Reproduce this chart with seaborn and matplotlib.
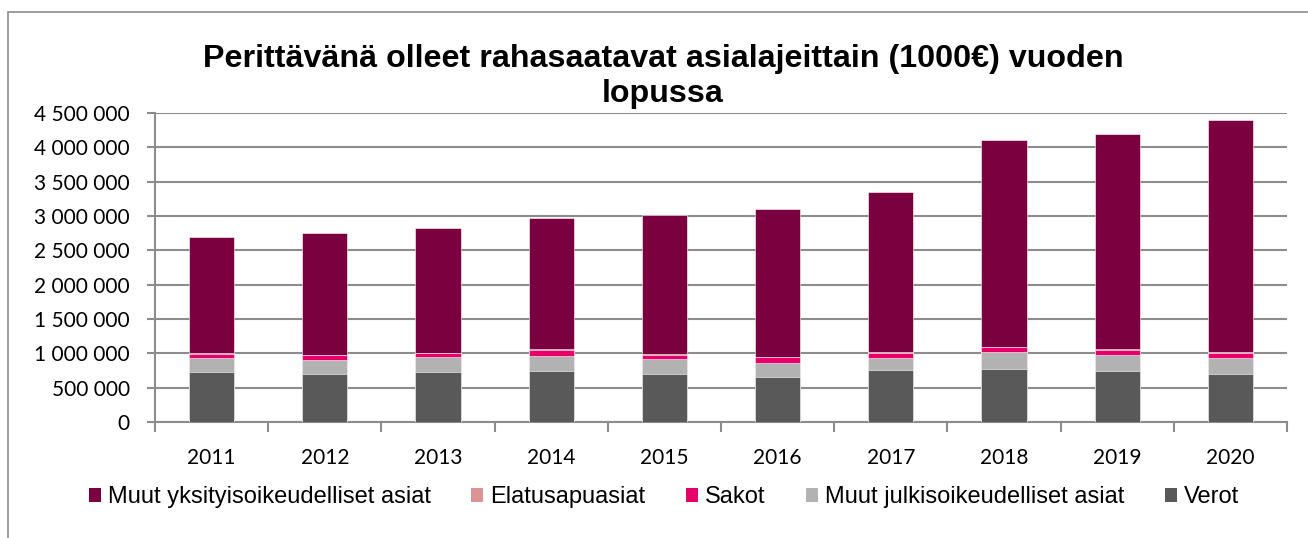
import numpy as np
import pandas as pd
import matplotlib
matplotlib.use("Agg")
import matplotlib.pyplot as plt
import seaborn as sns
from matplotlib.patches import Patch, Rectangle
from matplotlib.ticker import FuncFormatter, FixedLocator

# values in 1000 EUR
years = ["2011", "2012", "2013", "2014", "2015", "2016", "2017", "2018", "2019", "2020"]
verot = [724000, 704000, 724000, 743000, 704000, 655000, 757000, 772000, 747000, 704000]
muut_julkis = [213000, 203000, 227000, 223000, 218000, 209000, 180000, 247000, 233000, 223000]
elatus = [6000, 8000, 6000, 8000, 8000, 6000, 6000, 10000, 8000, 6000]
sakot = [57000, 65000, 52000, 85000, 60000, 77000, 72000, 68000, 71000, 82000]
muut_yksit = [1694000, 1772000, 1816000, 1912000, 2024000, 2153000, 2334000, 3010000, 3135000, 3383000]

series_names = ["Muut yksityisoikeudelliset asiat", "Elatusapuasiat", "Sakot",
                "Muut julkisoikeudelliset asiat", "Verot"]
colors = {"Muut yksityisoikeudelliset asiat": "#7a0040",
          "Elatusapuasiat": "#d99594",
          "Sakot": "#e8006a",
          "Muut julkisoikeudelliset asiat": "#b2b2b2",
          "Verot": "#595959"}

df = pd.DataFrame({"year": years, "Verot": verot,
                   "Muut julkisoikeudelliset asiat": muut_julkis,
                   "Sakot": sakot, "Elatusapuasiat": elatus,
                   "Muut yksityisoikeudelliset asiat": muut_yksit})

# stack bottom -> top, cumulative totals
stack_order = ["Verot", "Muut julkisoikeudelliset asiat", "Sakot", "Elatusapuasiat",
               "Muut yksityisoikeudelliset asiat"]
cum = df[stack_order].cumsum(axis=1)

sns.set_style("white")
plt.rcParams["font.family"] = ["Liberation Sans", "DejaVu Sans"]
plt.rcParams["text.color"] = "black"
plt.rcParams["xtick.color"] = "black"
plt.rcParams["ytick.color"] = "black"

fig = plt.figure(figsize=(13.08, 5.38), dpi=100)
ax = fig.add_axes([155 / 1308, 116 / 538, (1287 - 155) / 1308, (422 - 113) / 538])

# draw tallest cumulative first so lower segments sit on top
for name in reversed(stack_order):
    sns.barplot(x=df["year"], y=cum[name], color=colors[name], width=0.4,
                saturation=1, ax=ax, edgecolor="white", linewidth=0.4, zorder=3)

ax.set_ylim(0, 4500000)
ax.set_xlim(-0.5, len(years) - 0.5)
ax.set_yticks(np.arange(0, 4500001, 500000))
ax.yaxis.set_major_formatter(FuncFormatter(lambda v, p: f"{int(v):,}".replace(",", " ")))
ax.yaxis.grid(True, color="#8c8c8c", linewidth=1.5, zorder=0)
ax.set_axisbelow(True)
ax.set_xlabel("")
ax.set_ylabel("")

for s in ["top", "right"]:
    ax.spines[s].set_visible(False)
for s in ["left", "bottom"]:
    ax.spines[s].set_color("#8c8c8c")
    ax.spines[s].set_linewidth(1.5)

ax.tick_params(axis="y", which="major", left=True, length=6, width=1.5, color="#8c8c8c",
               labelsize=15, pad=12)
ax.tick_params(axis="x", which="major", bottom=False, labelsize=15, pad=15)
ax.xaxis.set_minor_locator(FixedLocator(np.arange(-0.5, len(years), 1)))
ax.tick_params(axis="x", which="minor", bottom=True, length=7, width=1.5, color="#8c8c8c")
for lab in ax.get_xticklabels() + ax.get_yticklabels():
    lab.set_fontfamily(["Lato", "DejaVu Sans"])

fig.text(663 / 1308, 1 - 59 / 538, "Perittävänä olleet rahasaatavat asialajeittain (1000€) vuoden",
         ha="center", va="center", fontsize=23.2, fontweight="bold")
fig.text(663 / 1308, 1 - 94 / 538, "lopussa", ha="center", va="center",
         fontsize=23.2, fontweight="bold")

handles = [Patch(facecolor=colors[n], edgecolor="none") for n in series_names]
fig.legend(handles, series_names, loc="center", bbox_to_anchor=(664 / 1308, 1 - 497 / 538),
           ncol=5, frameon=False, fontsize=17, handlelength=0.5, handleheight=0.55,
           handletextpad=0.3, columnspacing=1.72)

# outer chart border
fig.patches.append(Rectangle((8 / 1308, -0.1), 1.2, 1 - 12 / 538 + 0.1,
                             transform=fig.transFigure, fill=False,
                             edgecolor="#8c8c8c", linewidth=1.2))

fig.savefig("out.png", dpi=100)
